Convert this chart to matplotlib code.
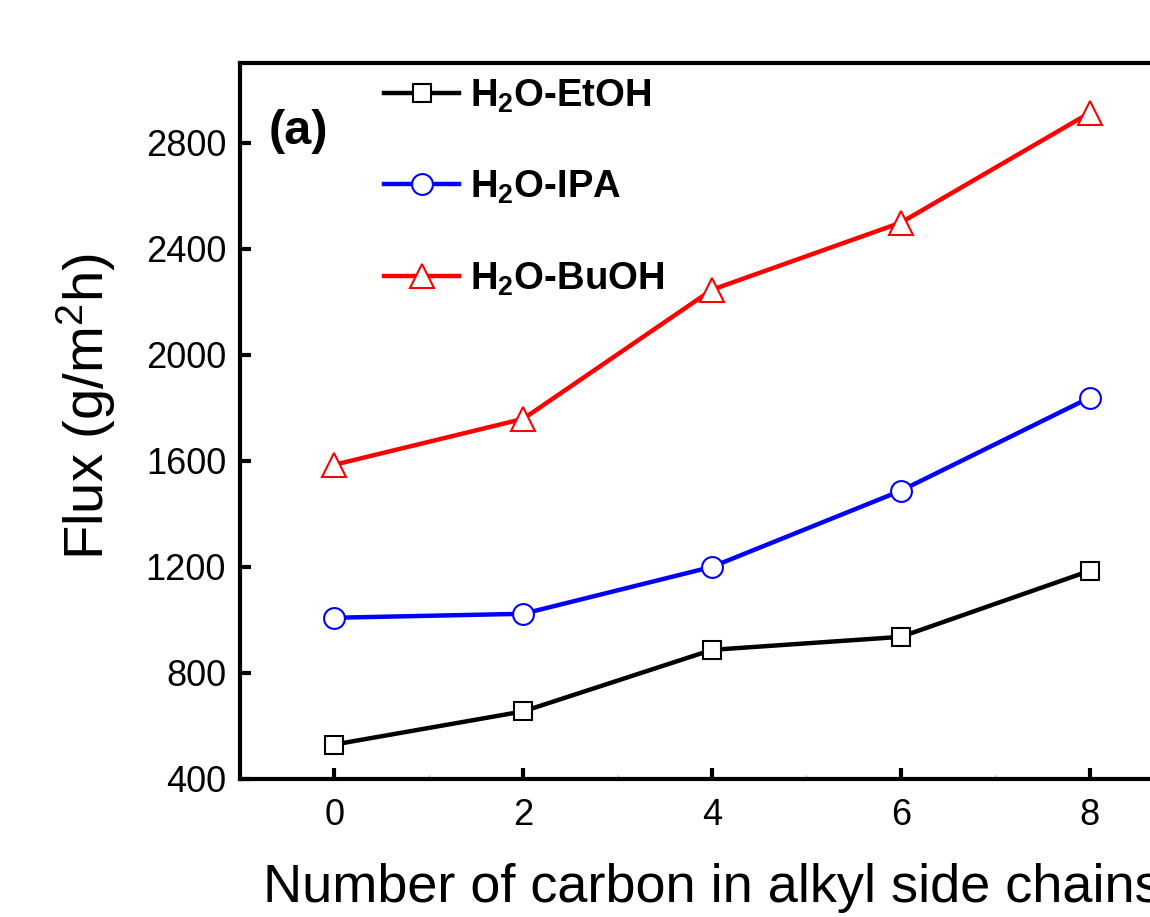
import matplotlib.pyplot as plt
import numpy as np

plt.rcParams['font.family'] = ['Liberation Sans', 'DejaVu Sans']
plt.rcParams['mathtext.fontset'] = 'custom'
plt.rcParams['mathtext.rm'] = 'Liberation Sans'
plt.rcParams['mathtext.it'] = 'Liberation Sans'
plt.rcParams['mathtext.bf'] = 'Liberation Sans:bold'

# carbon number in side chain
carbons = [0, 2, 4, 6, 8]
etoh = [530, 655, 887, 936, 1185]
ipa = [1008, 1023, 1200, 1487, 1838]
buoh = [1585, 1758, 2245, 2498, 2912]

fig = plt.figure(figsize=(11.5, 9.17), dpi=100)
ax = fig.add_axes([0.2087, 0.1505, 0.8209, 0.7808])

ax.plot(carbons, etoh, '-s', color='black', lw=3.2, ms=13, mfc='white', mec='black', mew=1.5,
        label=r'H$_\mathbf{2}$O-EtOH')
ax.plot(carbons, ipa, '-o', color='blue', lw=3.2, ms=15, mfc='white', mec='blue', mew=1.5,
        label=r'H$_\mathbf{2}$O-IPA')
ax.plot(carbons, buoh, '-^', color='red', lw=3.2, ms=17, mfc='white', mec='red', mew=1.5,
        label=r'H$_\mathbf{2}$O-BuOH')

ax.set_xlim(-1, 9)
ax.set_ylim(400, 3100)
ax.set_xticks(carbons)
ax.set_yticks(np.arange(400, 3000, 400))
ax.set_xticks([1, 3, 5, 7], minor=True)

for s in ax.spines.values():
    s.set_linewidth(3)
ax.tick_params(which='major', direction='in', length=8, width=3, labelsize=26)
ax.tick_params(axis='x', which='major', pad=14)
ax.tick_params(axis='y', which='major', pad=10)
ax.tick_params(which='minor', direction='in', length=3, width=1, color='#aaaaaa')

ax.set_xlabel('Number of carbon in alkyl side chains', fontsize=39, labelpad=21)
ax.set_ylabel(r'Flux (g/m$^2$h)', fontsize=40.5, labelpad=20)
ax.yaxis.label.set_y(0.52)

ax.text(0.03, 0.905, '(a)', transform=ax.transAxes, fontsize=35, fontweight='bold',
        va='center', ha='left')

leg = ax.legend(loc='upper left', bbox_to_anchor=(0.153, 0.98), frameon=False,
                prop={'weight': 'bold', 'size': 27.5}, handlelength=1.95,
                handletextpad=0.28, labelspacing=1.42, borderpad=0, borderaxespad=0)

fig.savefig('out.png', dpi=100)
